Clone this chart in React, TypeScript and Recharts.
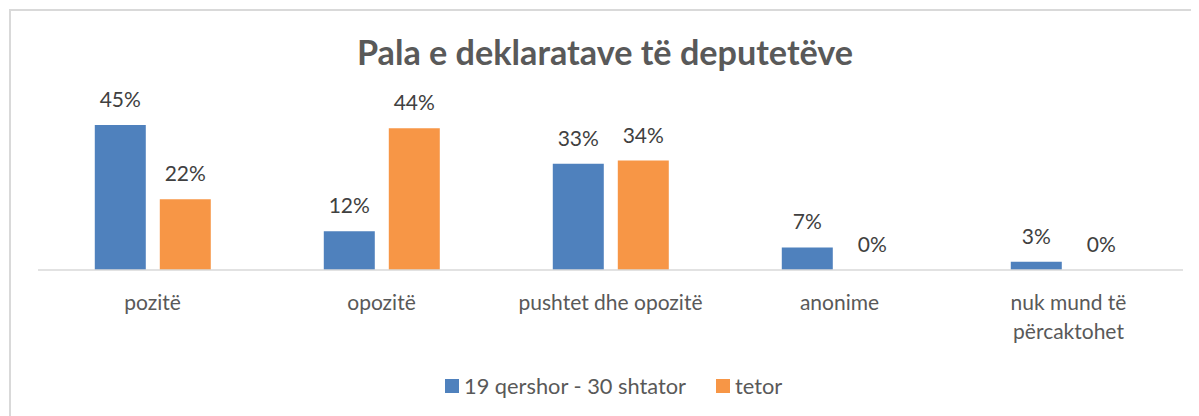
import React from "react";
import { BarChart, Bar, XAxis, YAxis, LabelList, Text } from "recharts";

const categories = ["pozitë", "opozitë", "pushtet dhe opozitë", "anonime", "nuk mund të përcaktohet"];
const seriesNames = ["19 qershor - 30 shtator", "tetor"];
const period1 = [0.45, 0.12, 0.33, 0.07, 0.026];
const period2 = [0.22, 0.44, 0.34, 0, 0];
const colors = ["#4F81BD", "#F79646"];
const title = "Pala e deklaratave të deputetëve";

const data = categories.map((c, i) => ({ name: c, p1: period1[i], p2: period2[i] }));

const FONT = "Lato, 'Open Sans', sans-serif";
const W = 1191;
const H = 408;

const fmt = (v: any) => `${Math.round(Number(v) * 100)}%`;

const CatTick = (props: any) => {
  const { x, y, payload } = props;
  return (
    <Text
      x={x}
      y={y + 25}
      width={175}
      textAnchor="middle"
      verticalAnchor="start"
      lineHeight={29}
      fontSize={21}
      fontFamily={FONT}
      style={{ fontSize: 21, fontFamily: FONT }}
      fill="#595959"
    >
      {payload.value}
    </Text>
  );
};

export default function App() {
  return (
    <div style={{ position: "relative", width: W, height: H, overflow: "hidden", background: "#fff" }}>
      <div
        style={{
          position: "absolute",
          left: 0.5,
          top: 0.5,
          width: 1300,
          height: 500,
          border: "2px solid #D9D9D9",
          boxSizing: "border-box",
        }}
      />
      <svg width={W} height={80} style={{ position: "absolute", left: 0, top: 0 }}>
        <text x={597} y={57} textAnchor="middle" fontFamily={FONT} fontWeight="bold" fontSize={34.2} fill="#595959">
          {title}
        </text>
      </svg>
      <div style={{ position: "absolute", left: 0, top: 0 }}>
        <BarChart
          width={W}
          height={H}
          data={data}
          margin={{ top: 101, right: 16, left: 30, bottom: 86 }}
          barCategoryGap="24.8%"
          barGap={14}
        >
          <YAxis hide domain={[0, 0.5]} />
          <XAxis
            dataKey="name"
            height={60}
            tickLine={false}
            tickSize={0}
            tickMargin={0}
            axisLine={{ stroke: "#D9D9D9", strokeWidth: 1.5 }}
            tick={<CatTick />}
            interval={0}
          />
          <Bar dataKey="p1" name={seriesNames[0]} fill={colors[0]} minPointSize={0.01} isAnimationActive={false}>
            <LabelList
              dataKey="p1"
              position="top"
              offset={18}
              formatter={fmt}
              fill="#404040"
              fontSize={21}
              fontFamily={FONT}
            />
          </Bar>
          <Bar dataKey="p2" name={seriesNames[1]} fill={colors[1]} minPointSize={0.01} isAnimationActive={false}>
            <LabelList
              dataKey="p2"
              position="top"
              offset={18}
              formatter={fmt}
              fill="#404040"
              fontSize={21}
              fontFamily={FONT}
            />
          </Bar>
        </BarChart>
      </div>
      <div
        style={{
          position: "absolute",
          left: 437,
          top: 364,
          display: "flex",
          alignItems: "center",
          gap: 30,
          fontFamily: FONT,
          fontSize: 21.8,
          color: "#595959",
          whiteSpace: "nowrap",
        }}
      >
        {seriesNames.map((n, i) => (
          <div key={n} style={{ display: "flex", alignItems: "center" }}>
            <span style={{ display: "inline-block", width: 14, height: 14, background: colors[i], marginRight: 5 }} />
            <span>{n}</span>
          </div>
        ))}
      </div>
    </div>
  );
}
